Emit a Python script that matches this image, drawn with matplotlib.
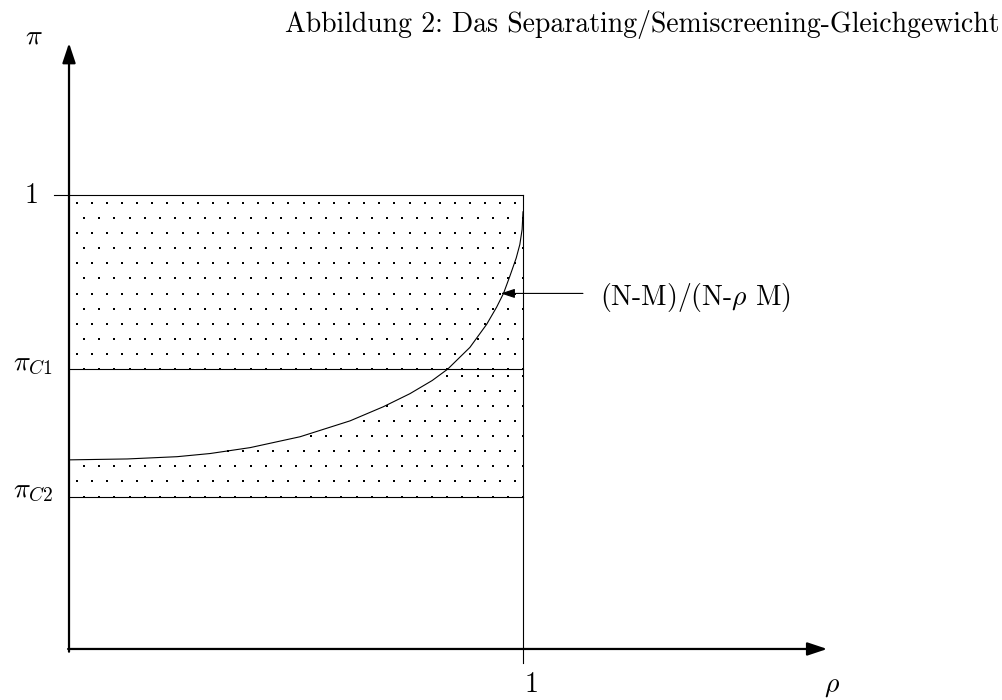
import numpy as np
import matplotlib
matplotlib.use('Agg')
import matplotlib.pyplot as plt

# Computer Modern look
plt.rcParams['font.family'] = 'serif'
plt.rcParams['font.serif'] = ['cmr10']
plt.rcParams['mathtext.fontset'] = 'cm'
plt.rcParams['axes.formatter.use_mathtext'] = True

# Levels
pi_c1 = 0.617
pi_c2 = 0.336

# Curve (N-M)/(N-rho M)
rho_curve = [0.0, 0.128, 0.238, 0.311, 0.399, 0.509, 0.619, 0.692, 0.751,
             0.800, 0.834, 0.883, 0.920, 0.942, 0.957, 0.971, 0.985, 0.993,
             0.998, 1.0]
pi_curve = [0.417, 0.419, 0.424, 0.431, 0.444, 0.468, 0.503, 0.534, 0.563,
            0.592, 0.617, 0.665, 0.716, 0.754, 0.784, 0.822, 0.862, 0.892,
            0.925, 0.964]

# Labels
title = 'Abbildung 2: Das Separating/Semiscreening-Gleichgewicht'
curve_label = r'(N-M)/(N-$\rho$ M)'
ytick_labels = ['1', r'$\pi_{C1}$', r'$\pi_{C2}$']

fig = plt.figure(figsize=(10.02, 7.0), dpi=100)
ax = fig.add_axes([0, 0, 1, 1])
ax.set_xlim(-0.152, 2.055)
ax.set_ylim(-0.1125, 1.431)
ax.axis('off')

# Dotted fill pattern (staggered grid, spacing 1/30)
step = 1 / 30
dots_x, dots_y = [], []
# upper band: whole rectangle between pi_C1 and 1
k = 0
while pi_c1 + k * step <= 1.0:
    y = pi_c1 + k * step
    xs = np.arange(0, 31) * step if k % 2 == 0 else (np.arange(0, 30) + 0.5) * step
    dots_x.extend(xs)
    dots_y.extend([y] * len(xs))
    k += 1
# lower band: between pi_C2 and the curve, below pi_C1
k = 0
while pi_c2 + k * step < pi_c1:
    y = pi_c2 + k * step
    xs = np.arange(0, 31) * step if k % 2 == 0 else (np.arange(0, 30) + 0.5) * step
    xs = xs[np.interp(xs, rho_curve, pi_curve) >= y]
    dots_x.extend(xs)
    dots_y.extend([y] * len(xs))
    k += 1
ax.scatter(dots_x, dots_y, s=2.2, marker='s', color='black', linewidths=0, zorder=1)

# Horizontal and vertical lines
ax.plot([-0.032, 1.0], [1.0, 1.0], color='black', lw=0.8)
ax.plot([0, 1.0], [pi_c1, pi_c1], color='black', lw=0.8)
ax.plot([0, 1.0], [pi_c2, pi_c2], color='black', lw=0.8)
ax.plot([1.0, 1.0], [-0.031, 1.0], color='black', lw=0.8)

# The curve
ax.plot(rho_curve, pi_curve, color='black', lw=0.8, solid_joinstyle='round')

# Axes with arrow heads
arrow = dict(arrowstyle='-|>,head_length=1.2,head_width=0.4', lw=1.6,
             color='black', shrinkA=0, shrinkB=0)
ax.annotate('', xy=(0, 1.336), xytext=(0, -0.006), arrowprops=arrow)
ax.annotate('', xy=(1.670, 0), xytext=(-0.002, 0), arrowprops=arrow)

# Arrow to the curve with its label
ax.annotate('', xy=(0.951, 0.784), xytext=(1.132, 0.784),
            arrowprops=dict(arrowstyle='-|>,head_length=0.85,head_width=0.28',
                            lw=0.8, color='black', shrinkA=0, shrinkB=0))
ax.text(1.170, 0.776, curve_label, fontsize=20, ha='left', va='center')

# Tick labels
ax.text(-0.082, 1.0, ytick_labels[0], fontsize=20, ha='center', va='center')
ax.text(-0.036, pi_c1 + 0.012, ytick_labels[1], fontsize=20, ha='right', va='center')
ax.text(-0.034, pi_c2 + 0.012, ytick_labels[2], fontsize=20, ha='right', va='center')
ax.text(1.018, -0.079, '1', fontsize=20, ha='center', va='center')

# Axis labels
ax.text(-0.078, 1.351, r'$\pi$', fontsize=20, ha='center', va='center')
ax.text(1.681, -0.082, r'$\rho$', fontsize=20, ha='center', va='center')

# Title
fig.text(0.998, 1 - 32 / 700, title, fontsize=20, ha='right', va='baseline')

fig.savefig('out.png', dpi=100)
